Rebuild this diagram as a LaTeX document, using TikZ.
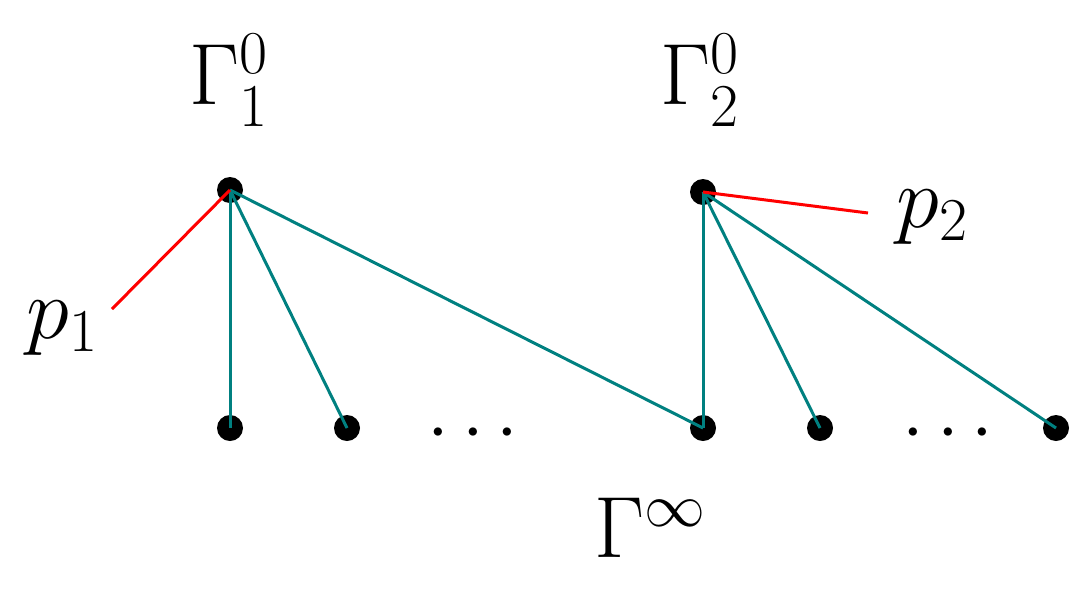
\RequirePackage{fix-cm}
\documentclass[tikz,border=0pt]{standalone}
\begin{document}
\begin{tikzpicture}[x=1pt,y=-1pt,
  vtx/.style={circle,fill=black,inner sep=0pt,minimum size=26pt},
  tedge/.style={draw=teal,line width=3pt},
  redge/.style={draw=red,line width=3pt},
  lbl/.style={inner sep=0pt,font=\fontsize{87}{100}\selectfont},
  dotlbl/.style={inner sep=0pt,font=\fontsize{78}{90}\selectfont}]
\useasboundingbox (0,0) rectangle (1071,590);
\node[vtx] (t1) at (230,190) {};
\node[vtx] (t2) at (703,192) {};
\node[vtx] (b1) at (230,428) {};
\node[vtx] (b2) at (347,428) {};
\node[vtx] (b3) at (703,428) {};
\node[vtx] (b4) at (820,428) {};
\node[vtx] (b5) at (1056,428) {};
\node[dotlbl] (d1) at (473,434) {$\cdots$};
\node[dotlbl] (d2) at (948,434) {$\cdots$};
\coordinate (e1) at (112,309);
\coordinate (e2) at (868,213);
\draw[tedge] (t1.center) -- (b1.center);
\draw[tedge] (t1.center) -- (b2.center);
\draw[tedge] (t1.center) -- (b3.center);
\draw[tedge] (t2.center) -- (b3.center);
\draw[tedge] (t2.center) -- (b4.center);
\draw[tedge] (t2.center) -- (b5.center);
\draw[redge] (t1.center) -- (e1);
\draw[redge] (t2.center) -- (e2);
\node[lbl] (g1) at (229,80) {$\Gamma_1^0$};
\node[lbl] (g2) at (700,80) {$\Gamma_2^0$};
\node[lbl] (ginf) at (650,528) {$\Gamma^\infty$};
\node[lbl] (p1) at (62,328) {$p_1$};
\node[lbl] (p2) at (932,217) {$p_2$};
\end{tikzpicture}
\end{document}
